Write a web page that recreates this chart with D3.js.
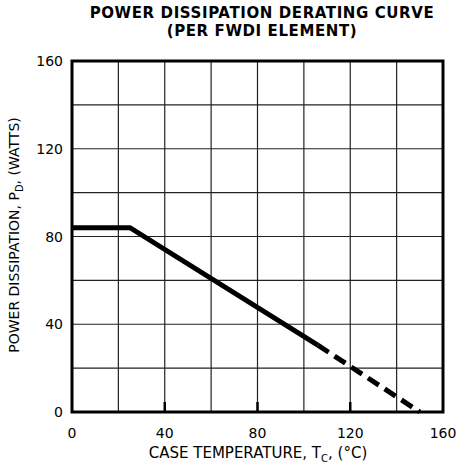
<!DOCTYPE html>
<html>
<head>
<meta charset="utf-8">
<script src="https://cdn.jsdelivr.net/npm/d3@7"></script>
<style>
  body { margin: 0; background: #fff; }
  svg { font-family: "DejaVu Sans", Arial, sans-serif; }
</style>
</head>
<body>
<div id="chart"></div>
<script>
const tempSolid = [0, 25, 106];
const powerSolid = [84, 84, 30.5];
const tempDashed = [106, 150];
const powerDashed = [30.5, 0];
const xTicks = [0, 40, 80, 120, 160];
const yTicks = [0, 40, 80, 120, 160];
const gridStep = 20;

const width = 456, height = 465, margin = { top: 61, right: 13, bottom: 53, left: 72 };

const svg = d3.select("#chart")
  .append("svg")
  .attr("width", width)
  .attr("height", height);

const x = d3.scaleLinear()
  .domain([0, 160])
  .range([margin.left, width - margin.right]);

const y = d3.scaleLinear()
  .domain([0, 160])
  .range([height - margin.bottom, margin.top]);

// grid
const grid = d3.range(0, 161, gridStep);
svg.append("g")
  .selectAll("line")
  .data(grid)
  .join("line")
  .attr("x1", d => x(d)).attr("x2", d => x(d))
  .attr("y1", y(0)).attr("y2", y(160))
  .attr("stroke", "#222").attr("stroke-width", 1.2);

svg.append("g")
  .selectAll("line")
  .data(grid)
  .join("line")
  .attr("y1", d => y(d)).attr("y2", d => y(d))
  .attr("x1", x(0)).attr("x2", x(160))
  .attr("stroke", "#222").attr("stroke-width", 1.2);

// frame
svg.append("rect")
  .attr("x", x(0)).attr("y", y(160))
  .attr("width", x(160) - x(0))
  .attr("height", y(0) - y(160))
  .attr("fill", "none")
  .attr("stroke", "#000")
  .attr("stroke-width", 3);

// small tick stubs at bottom
svg.append("g")
  .selectAll("line")
  .data([40, 80, 120])
  .join("line")
  .attr("x1", d => x(d)).attr("x2", d => x(d))
  .attr("y1", y(0)).attr("y2", y(0) - 10)
  .attr("stroke", "#000").attr("stroke-width", 2.5);

// axis labels
svg.append("g")
  .selectAll("text")
  .data(xTicks)
  .join("text")
  .attr("x", d => x(d))
  .attr("y", y(0) + 26)
  .attr("text-anchor", "middle")
  .attr("font-size", 14)
  .text(d => d);

svg.append("g")
  .selectAll("text")
  .data(yTicks)
  .join("text")
  .attr("x", x(0) - 9)
  .attr("y", d => y(d) + 5)
  .attr("text-anchor", "end")
  .attr("font-size", 14)
  .text(d => d);

// curve
const line = d3.line()
  .x(d => x(d[0]))
  .y(d => y(d[1]));

svg.append("path")
  .datum(d3.zip(tempSolid, powerSolid))
  .attr("fill", "none")
  .attr("stroke", "#000")
  .attr("stroke-width", 5)
  .attr("d", line);

svg.append("path")
  .datum(d3.zip(tempDashed, powerDashed))
  .attr("fill", "none")
  .attr("stroke", "#000")
  .attr("stroke-width", 5)
  .attr("stroke-dasharray", "13,7")
  .attr("d", line);

// titles
const titleAttrs = sel => sel
  .attr("x", 262)
  .attr("text-anchor", "middle")
  .attr("font-size", 15)
  .attr("letter-spacing", 0.6)
  .attr("font-weight", "bold");
svg.append("text").call(titleAttrs).attr("y", 18).text("POWER DISSIPATION DERATING CURVE");
svg.append("text").call(titleAttrs).attr("y", 36).text("(PER FWDI ELEMENT)");

const xt = svg.append("text")
  .attr("x", 258)
  .attr("y", 458)
  .attr("text-anchor", "middle")
  .attr("font-size", 15);
xt.append("tspan").text("CASE TEMPERATURE, T");
xt.append("tspan").attr("font-size", 10).attr("dy", 4).text("C");
xt.append("tspan").attr("dy", -4).text(", (°C)");

const yt = svg.append("text")
  .attr("transform", `translate(19,235) rotate(-90)`)
  .attr("text-anchor", "middle")
  .attr("font-size", 14);
yt.append("tspan").text("POWER DISSIPATION, P");
yt.append("tspan").attr("font-size", 10).attr("dy", 4).text("D");
yt.append("tspan").attr("dy", -4).text(", (WATTS)");
</script>
</body>
</html>
